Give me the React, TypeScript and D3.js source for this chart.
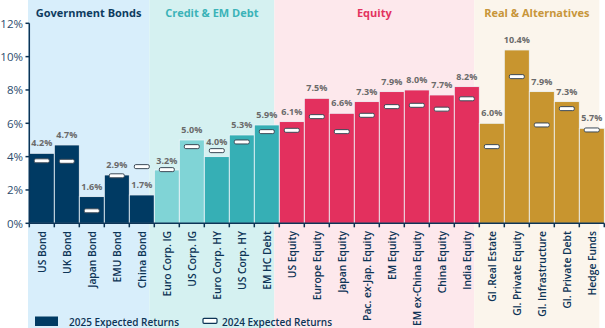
import React from "react";
import * as d3 from "d3";

const categories = [
  "US Bond", "UK Bond", "Japan Bond", "EMU Bond", "China Bond",
  "Euro Corp. IG", "US Corp. IG", "Euro Corp. HY", "US Corp. HY", "EM HC Debt",
  "US Equity", "Europe Equity", "Japan Equity", "Pac. ex-Jap. Equity", "EM Equity", "EM ex-China Equity", "China Equity", "India Equity",
  "Gl .Real Estate", "Gl. Private Equity", "Gl. Infrastructure", "Gl. Private Debt", "Hedge Funds",
];
const groupOf = [
  0, 0, 0, 0, 0,
  1, 1, 1, 1, 1,
  2, 2, 2, 2, 2, 2, 2, 2,
  3, 3, 3, 3, 3,
];
const returns2025 = [4.2, 4.7, 1.6, 2.9, 1.7, 3.2, 5.0, 4.0, 5.3, 5.9, 6.1, 7.5, 6.6, 7.3, 7.9, 8.0, 7.7, 8.2, 6.0, 10.4, 7.9, 7.3, 5.7];
const returns2024 = [3.75, 3.72, 0.75, 2.85, 3.4, 3.22, 4.6, 4.36, 4.88, 5.5, 5.58, 6.4, 5.5, 6.48, 7.0, 7.08, 6.85, 7.47, 4.6, 8.8, 5.9, 6.88, 5.6];
const groupTitles = ["Government Bonds", "Credit & EM Debt", "Equity", "Real & Alternatives"];
const yTicks = [0, 2, 4, 6, 8, 10, 12];

const groupBg = ["#d8eefb", "#d5f1f1", "#fde8ec", "#fbf5ec"];
const groupTitleColor = ["#0d3b5f", "#3bb3b8", "#e3335f", "#c8963a"];
const barColors = [
  "#003a63", "#003a63", "#003a63", "#003a63", "#003a63",
  "#80d4d6", "#80d4d6", "#36afb5", "#36afb5", "#36afb5",
  "#e3305e", "#e3305e", "#e3305e", "#e3305e", "#e3305e", "#e3305e", "#e3305e", "#e3305e",
  "#c8952f", "#c8952f", "#c8952f", "#c8952f", "#c8952f",
];

const W = 605, H = 328;
const FONT = "'Open Sans', sans-serif";
const NAVY = "#0d3456";

export default function App() {
  const x = d3.scaleBand<string>().domain(categories).range([29.3, 604.3]).padding(0);
  const y = d3.scaleLinear().domain([0, 12]).range([223.3, 23.3]);
  const bw = x.bandwidth();

  const groups = groupTitles.map((t, g) => {
    const idx = categories.map((_, i) => i).filter((i) => groupOf[i] === g);
    const first = x(categories[idx[0]])!;
    const last = x(categories[idx[idx.length - 1]])! + bw;
    const start = g === 0 ? first - 1.3 : first - 5;
    return { title: t, g, start, end: last - 5 };
  });

  const labelY = (i: number) => {
    const b = y(returns2025[i]);
    const m = y(returns2024[i]);
    return m < b && b - m < 10 ? m - 9 : b - 10.5;
  };

  return (
    <svg width={W} height={H} style={{ position: "absolute", left: 0, top: 0 }} fontFamily={FONT}>
      <rect x={0} y={0} width={W} height={H} fill="#ffffff" />
      {groups.map((p) => (
        <g key={p.title}>
          <rect x={p.start} y={0} width={p.end - p.start} height={H} fill={groupBg[p.g]} />
          <text x={(p.start + p.end) / 2} y={12} textAnchor="middle" dominantBaseline="central"
            fontSize={11} fontWeight={700} fill={groupTitleColor[p.g]}>{p.title}</text>
        </g>
      ))}
      {/* bars */}
      {categories.map((c, i) => (
        <rect key={c} x={x(c)!} y={y(returns2025[i])} width={bw} height={y(0) - y(returns2025[i])}
          fill={barColors[i]} stroke="#eef6fa" strokeWidth={0.8} />
      ))}
      {/* markers */}
      {categories.map((c, i) => (
        <rect key={"m" + c} x={x(c)! + bw / 2 - 7.5} y={y(returns2024[i]) - 2} width={15} height={4} rx={1.5}
          fill="#ffffff" stroke="#3c4a57" strokeWidth={1} />
      ))}
      {/* value labels */}
      {categories.map((c, i) => (
        <text key={"v" + c} x={x(c)! + bw / 2} y={labelY(i)} textAnchor="middle" dominantBaseline="central"
          fontSize={9} fontWeight={700} fill="#6a6a6a">{returns2025[i].toFixed(1)}%</text>
      ))}
      {/* y axis */}
      <line x1={29.3} x2={29.3} y1={y(12)} y2={y(0)} stroke={NAVY} strokeWidth={1.5} />
      {yTicks.map((t) => (
        <g key={t}>
          <line x1={25.5} x2={29.3} y1={y(t)} y2={y(t)} stroke={NAVY} strokeWidth={1.5} />
          <text x={23} y={y(t)} textAnchor="end" dominantBaseline="central" fontSize={11.5} fill="#2c4d6e">{t}%</text>
        </g>
      ))}
      {/* x axis */}
      <line x1={29.3} x2={604.3} y1={y(0)} y2={y(0)} stroke={NAVY} strokeWidth={1.5} />
      {d3.range(categories.length + 1).map((k) => (
        <line key={"t" + k} x1={29.3 + k * bw} x2={29.3 + k * bw} y1={y(0)} y2={y(0) + 4} stroke={NAVY} strokeWidth={1.5} />
      ))}
      {categories.map((c) => (
        <text key={"l" + c} transform={`translate(${x(c)! + bw / 2},231) rotate(-90)`} textAnchor="end"
          dominantBaseline="central" fontSize={10.3} fontWeight={600} fill={NAVY}>{c}</text>
      ))}
      {/* legend */}
      <rect x={35} y={316.5} width={23} height={9.5} fill="#003a63" />
      <text x={69} y={321.5} dominantBaseline="central" fontSize={10} fontWeight={600} fill={NAVY}>2025 Expected Returns</text>
      <rect x={203} y={318.3} width={14} height={5} rx={1} fill="#ffffff" stroke={NAVY} strokeWidth={1.2} />
      <text x={222} y={321.5} dominantBaseline="central" fontSize={10} fontWeight={600} fill={NAVY}>2024 Expected Returns</text>
    </svg>
  );
}
